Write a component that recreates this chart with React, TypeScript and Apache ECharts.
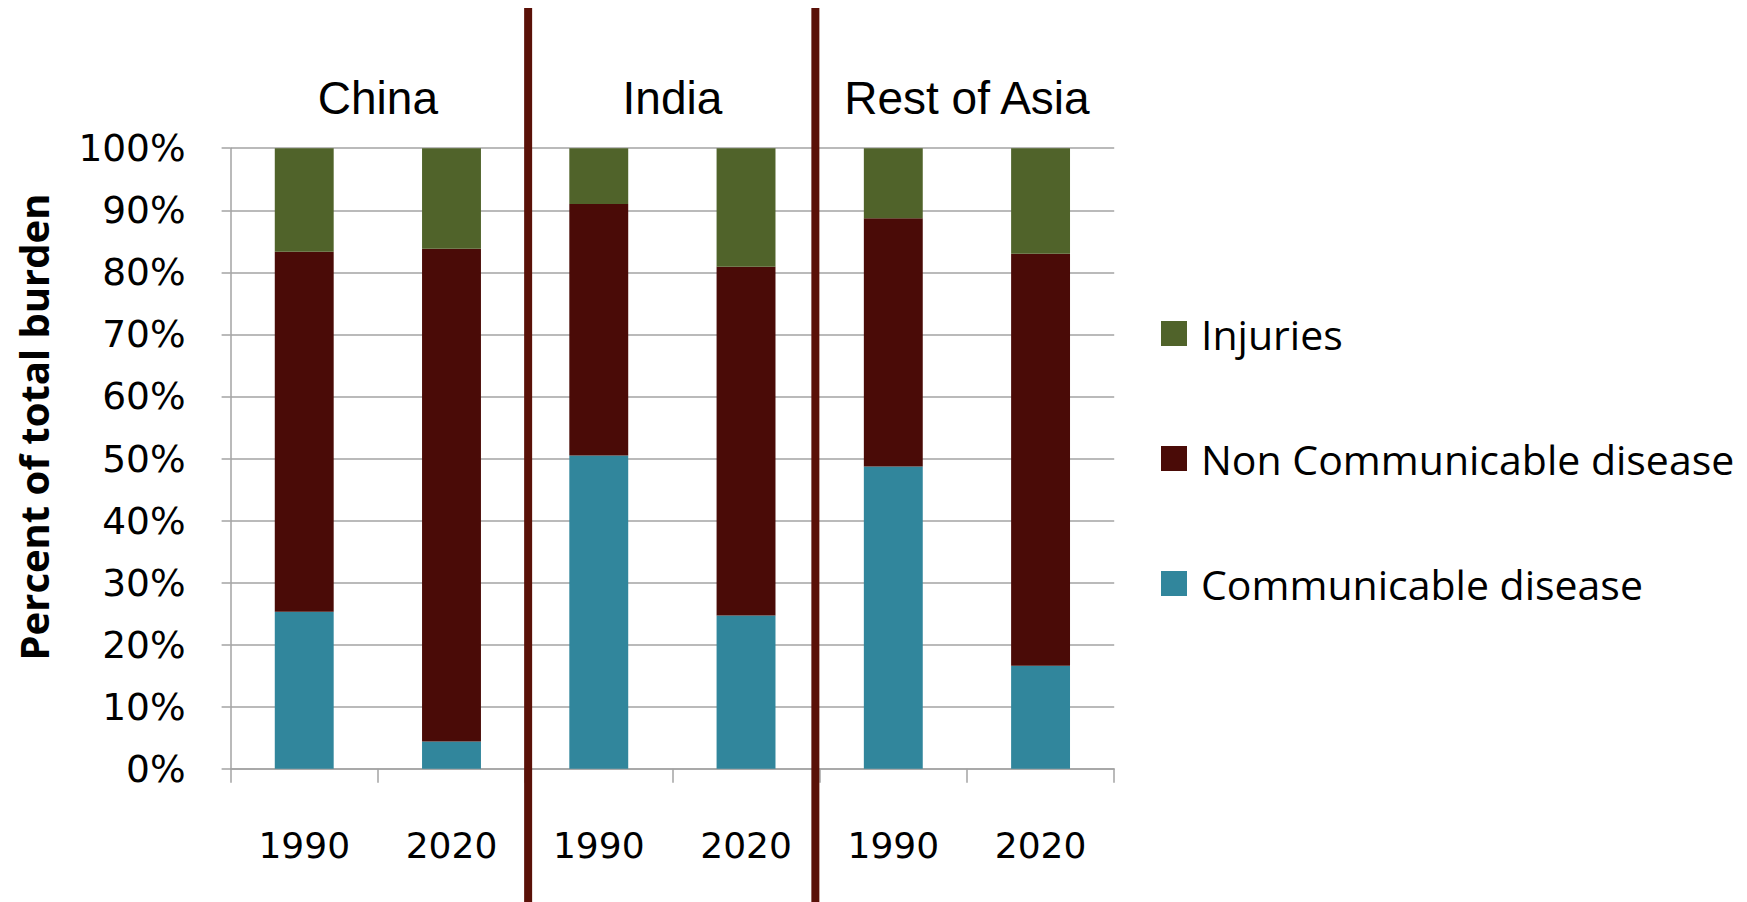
import React, { useEffect, useRef } from 'react';
import * as echarts from 'echarts';

const years = ['1990', '2020', '1990', '2020', '1990', '2020'];
const regions = ['China', 'India', 'Rest of Asia'];
const communicable = [25.3, 4.4, 50.5, 24.7, 48.7, 16.6];
const nonCommunicable = [58.0, 79.4, 40.5, 56.2, 40.0, 66.4];
const injuries = [16.7, 16.2, 9.0, 19.1, 11.3, 17.0];
const legendOrder = ['Injuries', 'Non Communicable disease', 'Communicable disease'];
const yAxisTitle = 'Percent of total burden';
const separatorOffsets = [3, -4.3];

const GRID_LEFT = 230.6;
const GRID_TOP = 148.2;
const GRID_W = 883.6;
const GRID_H = 620.6;

export default function App() {
  const ref = useRef<HTMLDivElement>(null);
  useEffect(() => {
    document.body.style.margin = '0';
    if (!ref.current) return;
    const chart = echarts.init(ref.current, null, { renderer: 'svg' });
    const gray = '#a3a3a3';
    const option: any = {
      animation: false,
      backgroundColor: '#ffffff',
      grid: { left: GRID_LEFT, top: GRID_TOP, width: GRID_W, height: GRID_H, containLabel: false },
      xAxis: {
        type: 'category',
        data: years,
        axisLine: { show: true, lineStyle: { color: gray, width: 1.5 } },
        axisTick: { show: true, length: 14, lineStyle: { color: gray, width: 1.5 } },
        axisLabel: { fontFamily: 'DejaVu Sans', fontSize: 36, color: '#000', margin: 58.5 },
        splitLine: { show: false },
      },
      yAxis: {
        type: 'value',
        min: 0,
        max: 100,
        interval: 10,
        axisLine: { show: true, lineStyle: { color: gray, width: 1.5 } },
        axisTick: { show: true, length: 9, lineStyle: { color: gray, width: 1.5 } },
        axisLabel: {
          fontFamily: 'DejaVu Sans', fontSize: 37.5, color: '#000', margin: 45,
          formatter: (v: number) => `${v}%`,
        },
        splitLine: { show: true, lineStyle: { color: gray, width: 1.5 } },
      },
      legend: {
        data: legendOrder,
        orient: 'vertical',
        left: 1161,
        top: 313,
        padding: 0,
        icon: 'rect',
        itemWidth: 26,
        itemHeight: 25,
        itemGap: 84,
        textStyle: { fontFamily: 'Open Sans', fontSize: 41, color: '#000', padding: [0, 0, 0, 9] },
      },
      series: [
        { name: 'Communicable disease', type: 'bar', stack: 'total', barWidth: '40%', data: communicable, itemStyle: { color: '#31869C' } },
        { name: 'Non Communicable disease', type: 'bar', stack: 'total', barWidth: '40%', data: nonCommunicable, itemStyle: { color: '#4A0B07' } },
        { name: 'Injuries', type: 'bar', stack: 'total', barWidth: '40%', data: injuries, itemStyle: { color: '#50632A' } },
      ],
    };
    chart.setOption(option);

    const px = (i: number) => chart.convertToPixel({ xAxisIndex: 0 }, i) as number;
    const graphics: any[] = [];
    regions.forEach((r, g) => {
      const cx = (px(g * 2) + px(g * 2 + 1)) / 2;
      graphics.push({
        type: 'text',
        x: cx,
        y: 98,
        style: { text: r, fontFamily: 'Liberation Sans', fontSize: 46, fill: '#000', textAlign: 'center', textVerticalAlign: 'middle' },
      });
    });
    for (let g = 1; g < regions.length; g++) {
      const bx = (px(g * 2 - 1) + px(g * 2)) / 2 + separatorOffsets[g - 1];
      graphics.push({
        type: 'line',
        shape: { x1: bx, y1: 8, x2: bx, y2: 902 },
        style: { stroke: '#5A1108', lineWidth: 8 },
        z: 100,
      });
    }
    graphics.push({
      type: 'text',
      x: 33,
      y: 427,
      rotation: Math.PI / 2,
      style: { text: yAxisTitle, fontFamily: 'Open Sans', fontWeight: 'bold', fontSize: 40, fill: '#000', textAlign: 'center', textVerticalAlign: 'middle' },
    });
    chart.setOption({ graphic: graphics });

    return () => chart.dispose();
  }, []);
  return <div ref={ref} style={{ width: 1747, height: 902 }} />;
}
